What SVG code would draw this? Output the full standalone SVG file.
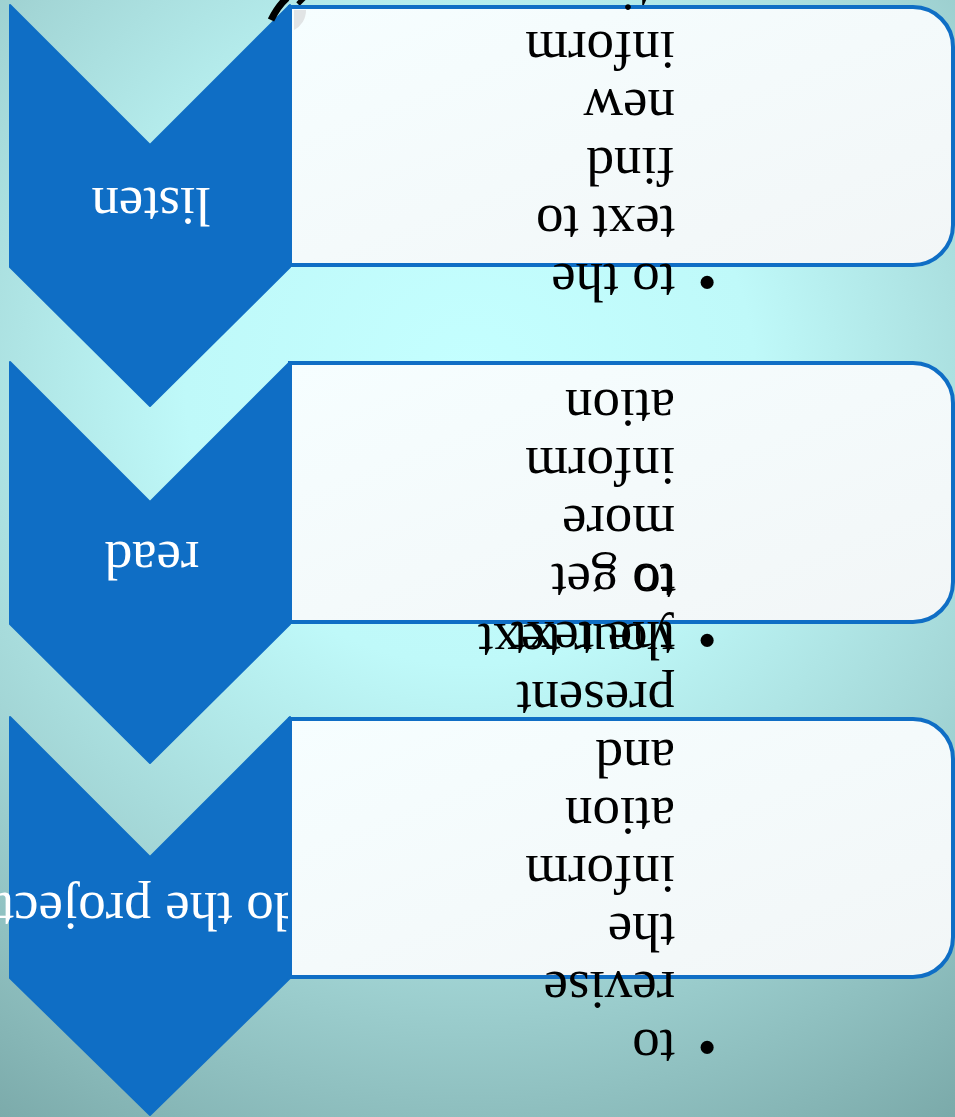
<svg xmlns="http://www.w3.org/2000/svg" width="955" height="1117" viewBox="0 0 955 1117">
  <defs>
    <radialGradient id="bg" gradientUnits="userSpaceOnUse" cx="470" cy="380" r="950">
      <stop offset="0" stop-color="#c4ffff"/>
      <stop offset="0.3" stop-color="#bff9f9"/>
      <stop offset="0.6" stop-color="#a3d6d6"/>
      <stop offset="1" stop-color="#72a0a0"/>
    </radialGradient>
    <linearGradient id="boxfill" x1="0" y1="0" x2="1" y2="1">
      <stop offset="0" stop-color="#f6feff"/>
      <stop offset="1" stop-color="#f2f6f7"/>
    </linearGradient>
    <style>
      .chev { fill: #0f6ec5; stroke: #0f6ec5; stroke-width: 2; stroke-linejoin: round; }
      .box { fill: url(#boxfill); stroke: #0f6ec5; stroke-width: 4; }
      .lbl { font-family: "Liberation Serif", "Times New Roman", serif; font-size: 55px; fill: #ffffff; text-anchor: middle; }
      .txt { font-family: "Liberation Serif", "Times New Roman", serif; font-size: 55px; fill: #000000; }
      .bul { font-family: "Liberation Serif", "Times New Roman", serif; font-size: 55px; fill: #000000; text-anchor: middle; }
    </style>
  </defs>

  <rect x="0" y="0" width="955" height="1117" fill="url(#bg)"/>

  <g id="connectors"/>

  <g id="step-listen">
    <polygon class="chev" points="10,5 150,145 290,5 290,267 150,406 10,267"/>
    <text class="lbl" x="151" y="188" transform="rotate(180 151 188)">listen</text>
  </g>

  <g id="step-read">
    <polygon class="chev" points="10,362 150,502 290,362 290,624 150,763 10,624"/>
    <text class="lbl" x="152" y="542" transform="rotate(180 152 542)">read</text>
  </g>

  <g id="step-project">
    <polygon class="chev" points="10,717 150,857 290,717 290,978 150,1115 10,978"/>
    <text class="lbl" x="150" y="893" transform="rotate(180 150 893)">do the project</text>
  </g>

  <g id="decoration">
    <path d="M271,20 Q278,6 287,-2" fill="none" stroke="#000000" stroke-width="7"/>
    <path d="M298,4 L304,-2" fill="none" stroke="#000000" stroke-width="5"/>
  </g>

  <g id="detail-listen">
    <path class="box" d="M290,7 H913 A40,40 0 0 1 953,47 V225 A40,40 0 0 1 913,265 H290 Z"/>
    <path d="M294,10 H306 A22,22 0 0 1 294,30 Z" fill="#e1e4e5"/>
    <text class="bul" x="707" y="264" transform="rotate(180 707 264)">•</text>
    <text class="txt" x="675" y="264" transform="rotate(180 675 264)">to the</text>
    <text class="txt" x="675" y="206" transform="rotate(180 675 206)">text to</text>
    <text class="txt" x="675" y="148" transform="rotate(180 675 148)">find</text>
    <text class="txt" x="675" y="90" transform="rotate(180 675 90)">new</text>
    <text class="txt" x="675" y="32" transform="rotate(180 675 32)">inform</text>
    <text class="txt" x="675" y="-26" transform="rotate(180 675 -26)">ation</text>
  </g>

  <g id="detail-read">
    <path class="box" d="M290,363 H913 A40,40 0 0 1 953,403 V582 A40,40 0 0 1 913,622 H290 Z"/>
    <text class="bul" x="707" y="622" transform="rotate(180 707 622)">•</text>
    <text class="txt" x="675" y="622" transform="rotate(180 675 622)">the text</text>
    <text class="txt" x="675" y="564" transform="rotate(180 675 564)">to get</text>
    <text class="txt" x="675" y="506" transform="rotate(180 675 506)">more</text>
    <text class="txt" x="675" y="448" transform="rotate(180 675 448)">inform</text>
    <text class="txt" x="675" y="390" transform="rotate(180 675 390)">ation</text>
  </g>

  <g id="detail-project">
    <path class="box" d="M290,719 H913 A40,40 0 0 1 953,759 V937 A40,40 0 0 1 913,977 H290 Z"/>
    <text class="bul" x="707" y="1029" transform="rotate(180 707 1029)">•</text>
    <text class="txt" x="675" y="1030" transform="rotate(180 675 1030)">to</text>
    <text class="txt" x="675" y="972" transform="rotate(180 675 972)">revise</text>
    <text class="txt" x="675" y="914" transform="rotate(180 675 914)">the</text>
    <text class="txt" x="675" y="856" transform="rotate(180 675 856)">inform</text>
    <text class="txt" x="675" y="798" transform="rotate(180 675 798)">ation</text>
    <text class="txt" x="675" y="740" transform="rotate(180 675 740)">and</text>
    <text class="txt" x="675" y="682" transform="rotate(180 675 682)">present</text>
    <text class="txt" x="675" y="624" transform="rotate(180 675 624)">your text</text>
    <text class="txt" x="676" y="566" transform="rotate(180 676 566)">to</text>
  </g>
</svg>
